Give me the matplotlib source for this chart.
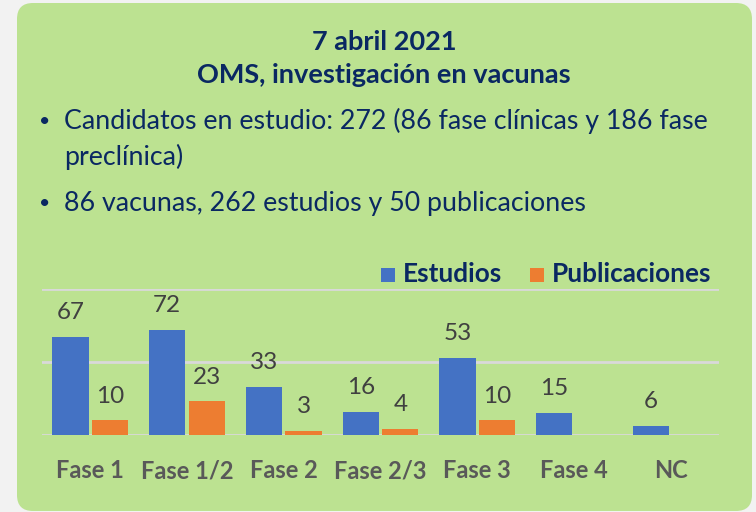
import numpy as np
import matplotlib.pyplot as plt
from matplotlib.patches import FancyBboxPatch, Rectangle

# Data
categories = ['Fase 1', 'Fase 1/2', 'Fase 2', 'Fase 2/3', 'Fase 3', 'Fase 4', 'NC']
estudios = [67, 72, 33, 16, 53, 15, 6]
publicaciones = [10, 23, 3, 4, 10, None, None]

title_lines = ['7 abril 2021', 'OMS, investigación en vacunas']
bullet1 = ['Candidatos en estudio: 272 (86 fase clínicas y 186 fase', 'preclínica)']
bullet2 = '86 vacunas, 262 estudios y 50 publicaciones'

navy = '#0a2862'
blue = '#4472C4'
orange = '#ED7D31'
green = '#bce291'
plt.rcParams['font.family'] = ['Lato', 'DejaVu Sans']

W, H = 756, 512
fig = plt.figure(figsize=(W / 100, H / 100), dpi=100, facecolor='#f2f2f2')

# background panel in pixel coordinates
bg = fig.add_axes([0, 0, 1, 1])
bg.set_xlim(0, W)
bg.set_ylim(H, 0)
bg.axis('off')
bg.add_patch(FancyBboxPatch((17, 3), 735, 508, boxstyle='round,pad=0,rounding_size=16',
                            facecolor=green, edgecolor='none'))

bg.text(384, 50, title_lines[0], ha='center', va='baseline', fontsize=19.5,
        fontweight='bold', color=navy)
bg.text(384, 83, title_lines[1], ha='center', va='baseline', fontsize=19.5,
        fontweight='bold', color=navy)

bg.text(45, 122, '•', ha='center', va='center', fontsize=14, color=navy)
bg.text(64, 129, bullet1[0], ha='left', va='baseline', fontsize=19.3, color=navy)
bg.text(64, 165, bullet1[1], ha='left', va='baseline', fontsize=19.3, color=navy)
bg.text(45, 204, '•', ha='center', va='center', fontsize=14, color=navy)
bg.text(64, 211, bullet2, ha='left', va='baseline', fontsize=19.3, color=navy)

# legend
bg.add_patch(Rectangle((381, 268), 14, 14, facecolor=blue, edgecolor='none'))
bg.text(403, 282, 'Estudios', ha='left', va='baseline', fontsize=18.8,
        fontweight='bold', color=navy)
bg.add_patch(Rectangle((530, 268), 14, 14, facecolor=orange, edgecolor='none'))
bg.text(552, 282, 'Publicaciones', ha='left', va='baseline', fontsize=18.8,
        fontweight='bold', color=navy)

# bar chart
ax = fig.add_axes([42 / W, (H - 435) / H, 677 / W, (435 - 289) / H])
ax.patch.set_alpha(0)
x = np.arange(len(categories))
pub = np.array([np.nan if v is None else v for v in publicaciones], dtype=float)
w = 0.375
b1 = ax.bar(x - 0.205, estudios, w, color=blue, zorder=3)
b2 = ax.bar(x + 0.205, pub, w, color=orange, zorder=3)
ax.bar_label(b1, labels=[str(v) for v in estudios], padding=10, fontsize=17.5,
             color='#404040')
ax.bar_label(b2, labels=['' if v is None else str(v) for v in publicaciones],
             padding=10, fontsize=17.5, color='#404040')

ax.set_xlim(-0.5, len(categories) - 0.5)
ax.set_ylim(0, 100)
ax.set_yticks([0, 50, 100])
ax.yaxis.grid(True, color='#d9d9d9', linewidth=2, zorder=0)
ax.tick_params(left=False, labelleft=False, bottom=False)
for s in ax.spines.values():
    s.set_visible(False)
ax.set_xticks(x)
ax.set_xticklabels(categories, fontsize=17, fontweight='bold', color='#595959')
ax.tick_params(axis='x', pad=14)

fig.savefig('out.png', dpi=100, facecolor=fig.get_facecolor())
